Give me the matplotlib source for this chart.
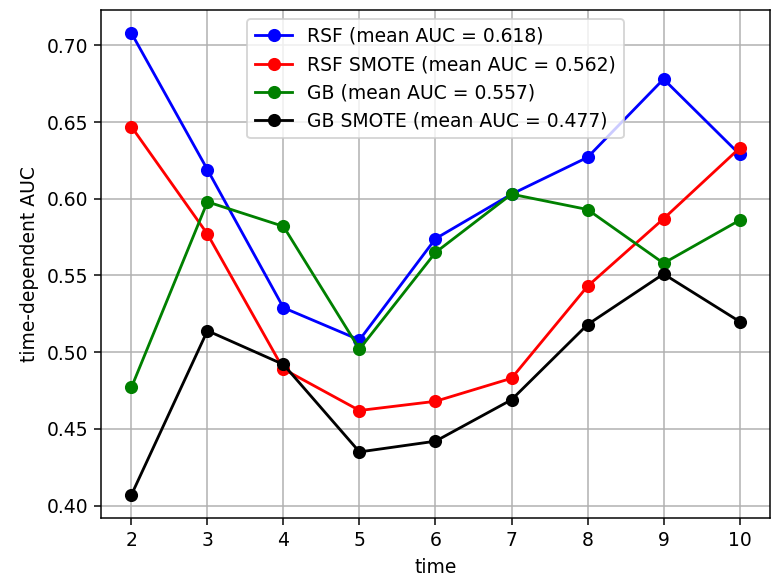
import matplotlib
matplotlib.use("Agg")
import matplotlib.pyplot as plt

times = [2, 3, 4, 5, 6, 7, 8, 9, 10]
rsf = [0.708, 0.619, 0.529, 0.508, 0.574, 0.603, 0.627, 0.678, 0.629]
rsf_smote = [0.647, 0.577, 0.489, 0.462, 0.468, 0.483, 0.543, 0.587, 0.633]
gb = [0.477, 0.598, 0.582, 0.502, 0.565, 0.603, 0.593, 0.558, 0.586]
gb_smote = [0.407, 0.514, 0.492, 0.435, 0.442, 0.469, 0.518, 0.551, 0.520]

labels = ["RSF (mean AUC = 0.618)", "RSF SMOTE (mean AUC = 0.562)",
          "GB (mean AUC = 0.557)", "GB SMOTE (mean AUC = 0.477)"]
colors = ["blue", "red", "green", "black"]

DPI = 135
fig = plt.figure(figsize=(771 / DPI, 574 / DPI), dpi=DPI)
ax = fig.add_axes([0.131, 0.0976, 0.8677, 0.885])
for vals, lab, c in zip([rsf, rsf_smote, gb, gb_smote], labels, colors):
    ax.plot(times, vals, marker="o", color=c, label=lab)
ax.set_xlabel("time")
ax.set_ylabel("time-dependent AUC")
ax.grid(True)
ax.legend(loc="upper center")
fig.savefig("out.png", dpi=DPI)
